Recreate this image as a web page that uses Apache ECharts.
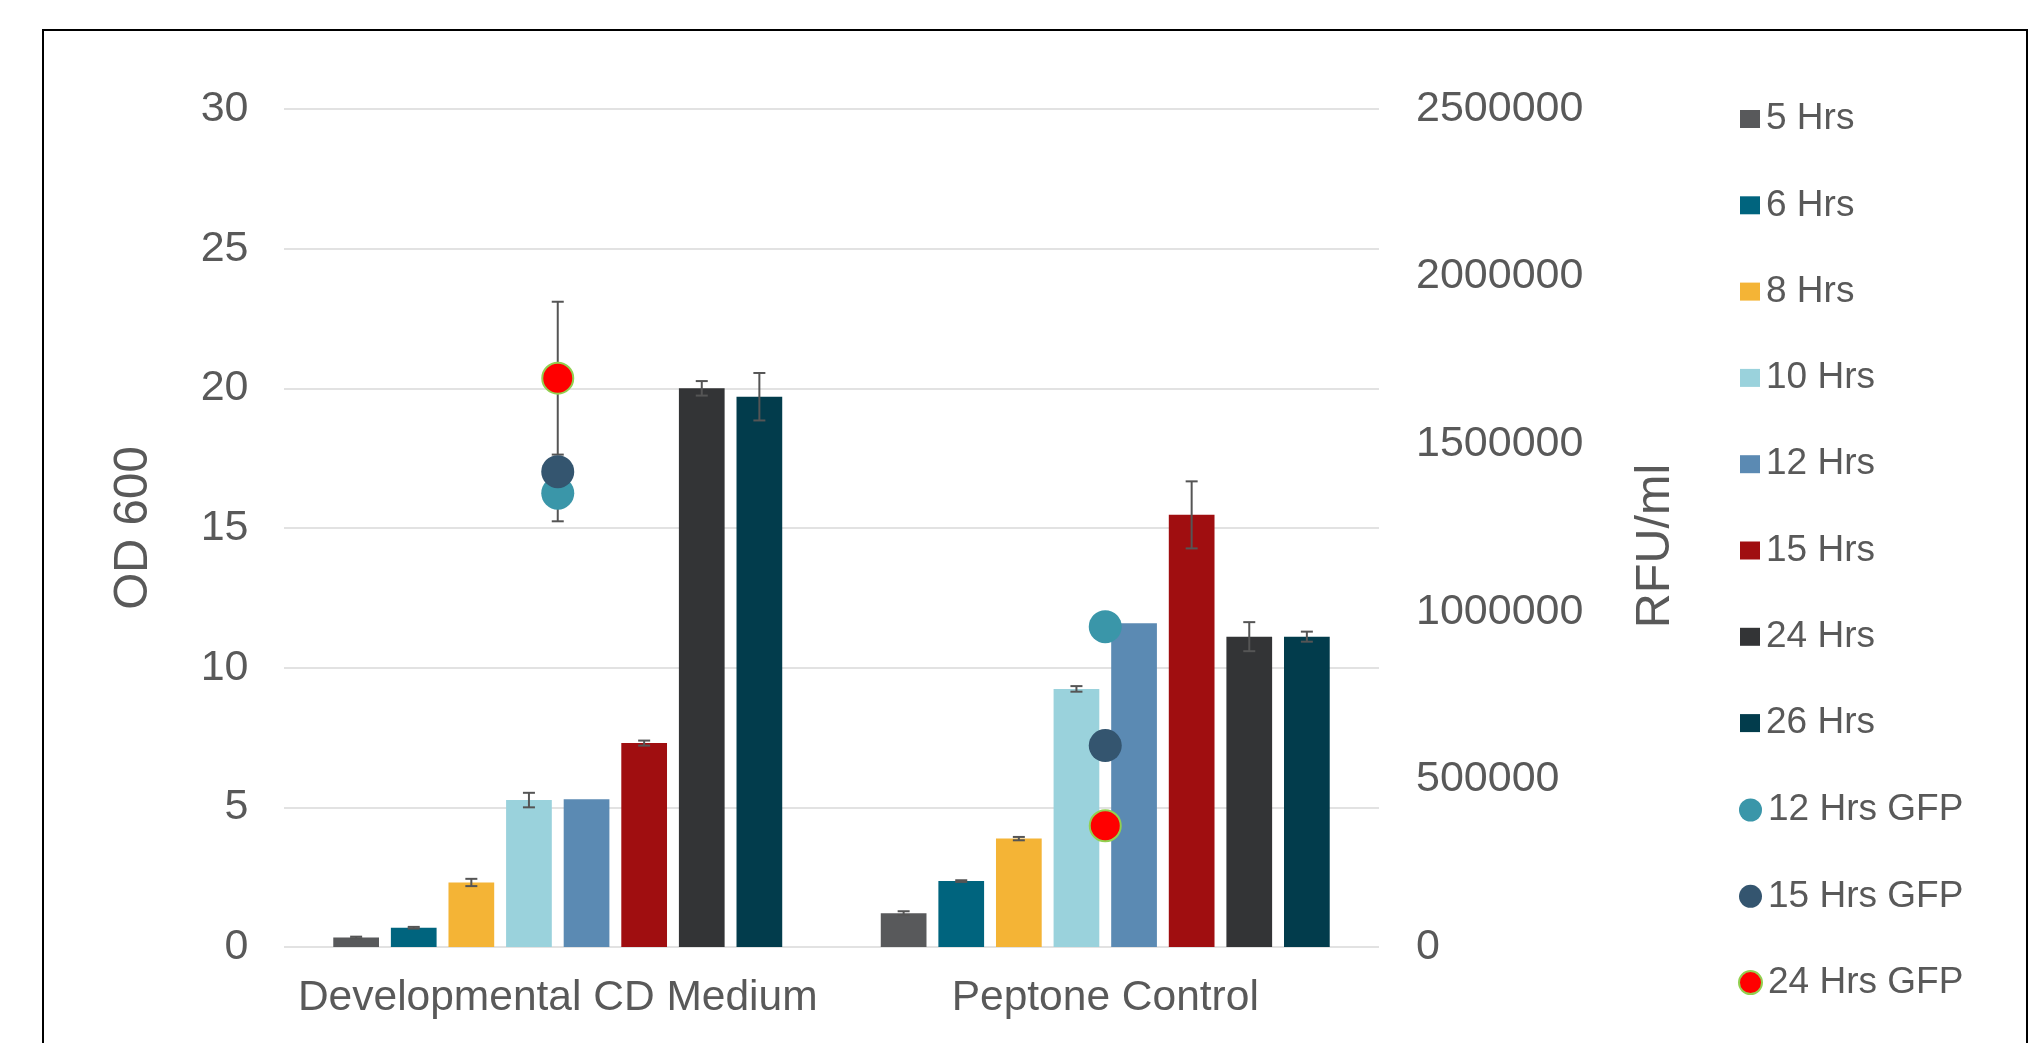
<!DOCTYPE html>
<html>
<head>
<meta charset="utf-8">
<script src="https://cdn.jsdelivr.net/npm/echarts@6/dist/echarts.min.js"></script>
<style>
html,body{margin:0;padding:0;background:#fff;}
#chart{width:2040px;height:1043px;}
</style>
</head>
<body>
<div id="chart"></div>
<script>
// ---------- data ----------
const categories = ['Developmental CD Medium', 'Peptone Control'];
const barNames = ['5 Hrs', '6 Hrs', '8 Hrs', '10 Hrs', '12 Hrs', '15 Hrs', '24 Hrs', '26 Hrs'];
const hrs5  = [0.34, 1.21];
const hrs6  = [0.69, 2.36];
const hrs8  = [2.31, 3.88];
const hrs10 = [5.26, 9.24];
const hrs12 = [5.29, 11.59];
const hrs15 = [7.30, 15.47];
const hrs24 = [20.0, 11.11];
const hrs26 = [19.70, 11.11];
const err5  = [0.03, 0.07];
const err6  = [0.03, 0.03];
const err8  = [0.13, 0.06];
const err10 = [0.26, 0.10];
const err12 = [0, 0];
const err15 = [0.09, 1.20];
const err24 = [0.26, 0.52];
const err26 = [0.85, 0.18];

const gfpNames = ['12 Hrs GFP', '15 Hrs GFP', '24 Hrs GFP'];
const gfp12 = [1354000, 955700];
const gfp15 = [1418000, 601000];
const gfp24 = [1697000, 361700];
const gfpErr12 = [84000, 0];
const gfpErr15 = [0, 0];
const gfpErr24 = [228000, 0];

const odTicks = [0, 5, 10, 15, 20, 25, 30];
const rfuTicks = [0, 500000, 1000000, 1500000, 2000000, 2500000];

// ---------- styles ----------
const barColors = ['#58595B', '#00647E', '#F4B436', '#9AD2DC', '#5B8AB3', '#A00E10', '#333436', '#023C4C'];
const gfpColors = ['#3A96A9', '#34556F', '#FF0000'];
const FONT = '"Liberation Sans", Arial, sans-serif';
const TXT = '#595959';
const CAT_GAP = 0.18, BAR_GAP = 0.26;

const barValues = [hrs5, hrs6, hrs8, hrs10, hrs12, hrs15, hrs24, hrs26];
const barErrs = [err5, err6, err8, err10, err12, err15, err24, err26];
const gfpValues = [gfp12, gfp15, gfp24];
const gfpErrs = [gfpErr12, gfpErr15, gfpErr24];

function errShape(api, cx, v, e) {
  const top = api.coord([0, v + e])[1];
  const bot = api.coord([0, v - e])[1];
  const st = {stroke: '#555555', lineWidth: 2};
  return {
    type: 'group',
    children: [
      {type: 'line', shape: {x1: cx, y1: top, x2: cx, y2: bot}, style: st},
      {type: 'line', shape: {x1: cx - 6, y1: top, x2: cx + 6, y2: top}, style: st},
      {type: 'line', shape: {x1: cx - 6, y1: bot, x2: cx + 6, y2: bot}, style: st}
    ]
  };
}

const series = [];
const N = barNames.length;
barNames.forEach((name, k) => {
  series.push({
    name: name, type: 'bar', yAxisIndex: 0,
    data: barValues[k],
    itemStyle: {color: barColors[k]},
    barGap: (BAR_GAP * 100) + '%', barCategoryGap: (CAT_GAP * 100) + '%',
    z: 2
  });
});
barNames.forEach((name, k) => {
  series.push({
    type: 'custom', yAxisIndex: 0, z: 3, silent: true,
    data: categories.map((c, i) => [i, barValues[k][i], barErrs[k][i]]),
    renderItem: function (params, api) {
      const cat = api.value(0), v = api.value(1), e = api.value(2);
      if (!e) return null;
      const center = api.coord([cat, v]);
      const band = api.size([1, 0])[0];
      const bw = band * (1 - CAT_GAP) / (N + (N - 1) * BAR_GAP);
      const cx = center[0] + (k - (N - 1) / 2) * bw * (1 + BAR_GAP);
      return errShape(api, cx, v, e);
    }
  });
});
gfpNames.forEach((name, k) => {
  series.push({
    type: 'custom', yAxisIndex: 1, z: 4, silent: true,
    data: categories.map((c, i) => [i, gfpValues[k][i], gfpErrs[k][i]]),
    renderItem: function (params, api) {
      const cat = api.value(0), v = api.value(1), e = api.value(2);
      if (!e) return null;
      const center = api.coord([cat, v]);
      return errShape(api, center[0], v, e);
    }
  });
});
gfpNames.forEach((name, k) => {
  series.push({
    name: name, type: 'scatter', yAxisIndex: 1, z: 5,
    data: gfpValues[k],
    symbol: 'circle',
    symbolSize: k === 2 ? 31 : 33,
    itemStyle: k === 2 ? {color: gfpColors[k], borderColor: '#92D050', borderWidth: 2, opacity: 1}
                       : {color: gfpColors[k], opacity: 1}
  });
});

const chart = echarts.init(document.getElementById('chart'), null, {renderer: 'canvas'});
chart.setOption({
  animation: false,
  backgroundColor: '#ffffff',
  textStyle: {fontFamily: FONT, color: TXT},
  graphic: [{
    type: 'rect', silent: true, z: 100,
    shape: {x: 43, y: 30, width: 1984, height: 1100},
    style: {fill: 'none', stroke: '#000000', lineWidth: 2}
  }],
  grid: {left: 284, right: 661, top: 109, bottom: 96, containLabel: false},
  legend: [{
    data: barNames, orient: 'vertical', left: 1740, top: 99, padding: 0,
    icon: 'rect', itemWidth: 20, itemHeight: 18, itemGap: 46.3,
    selectedMode: false,
    textStyle: {fontFamily: FONT, fontSize: 37, color: TXT, lineHeight: 40, padding: [0, 0, 0, 1]}
  }, {
    data: gfpNames, orient: 'vertical', left: 1738, top: 790, padding: 0,
    icon: 'circle', itemWidth: 23, itemHeight: 23, itemGap: 46.3,
    selectedMode: false,
    textStyle: {fontFamily: FONT, fontSize: 37, color: TXT, lineHeight: 40, padding: [0, 0, 0, 1]}
  }],
  xAxis: {
    type: 'category', data: categories,
    axisLine: {show: false}, axisTick: {show: false},
    axisLabel: {interval: 0, fontFamily: FONT, fontSize: 42.5, color: TXT, margin: 30}
  },
  yAxis: [{
    type: 'value', min: odTicks[0], max: odTicks[odTicks.length - 1], interval: odTicks[1] - odTicks[0],
    name: 'OD 600', nameLocation: 'middle', nameGap: 126,
    nameTextStyle: {fontFamily: FONT, fontSize: 47.5, color: TXT},
    axisLine: {show: false}, axisTick: {show: false},
    axisLabel: {fontFamily: FONT, fontSize: 43, color: TXT, margin: 35.5},
    splitLine: {show: true, lineStyle: {color: '#D9D9D9', width: 1.6}}
  }, {
    type: 'value', min: rfuTicks[0], max: rfuTicks[rfuTicks.length - 1], interval: rfuTicks[1] - rfuTicks[0],
    position: 'right',
    name: 'RFU/ml', nameLocation: 'middle', nameGap: 252,
    nameTextStyle: {fontFamily: FONT, fontSize: 48.5, color: TXT, padding: [0, 36, 0, 0]},
    axisLine: {show: false}, axisTick: {show: false},
    axisLabel: {fontFamily: FONT, fontSize: 43, color: TXT, margin: 37, formatter: v => String(v)},
    splitLine: {show: false}
  }],
  series: series
});
</script>
</body>
</html>
